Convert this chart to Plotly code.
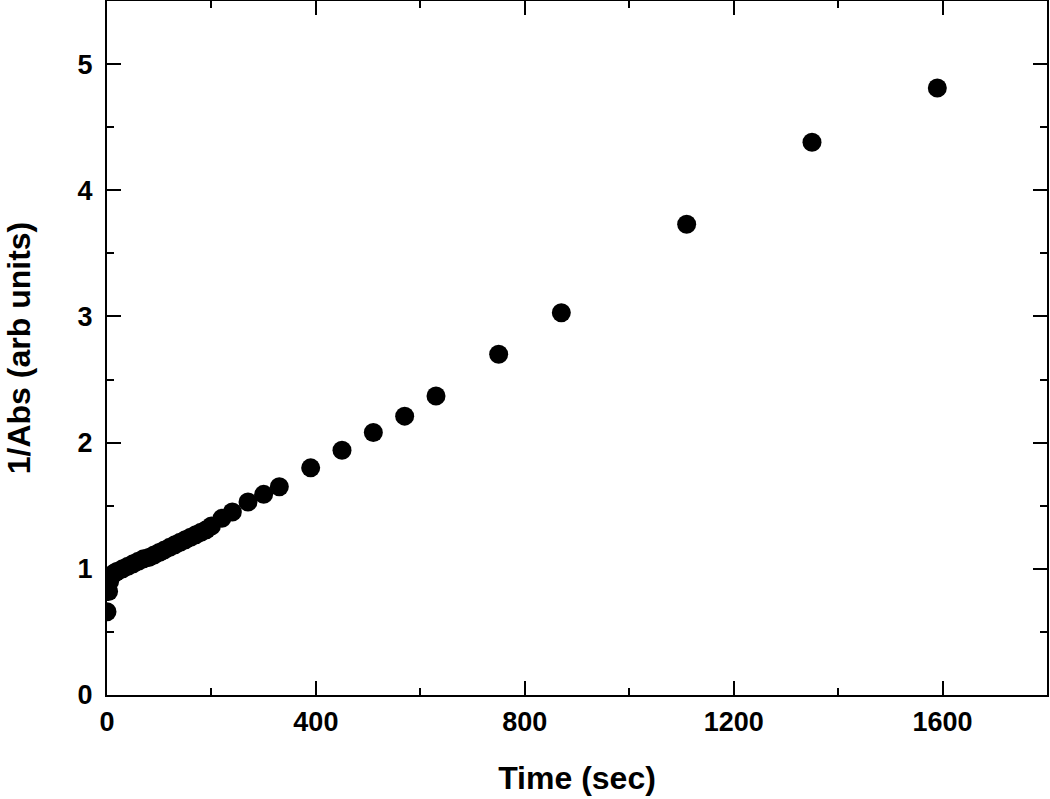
import plotly.graph_objects as go

# time (sec) and 1/Abs (arb units)
time_sec = [0, 3, 5, 8, 12, 16, 20, 30, 40, 50, 60, 70, 80, 90, 100, 110, 120,
            130, 140, 150, 160, 170, 180, 190, 200, 220, 240, 270, 300, 330,
            390, 450, 510, 570, 630, 750, 870, 1110, 1350, 1590]
inv_abs = [0.66, 0.82, 0.90, 0.94, 0.96, 0.97, 0.98, 1.00, 1.02, 1.04, 1.06,
           1.08, 1.09, 1.11, 1.13, 1.15, 1.17, 1.19, 1.21, 1.23, 1.25, 1.27,
           1.29, 1.31, 1.34, 1.40, 1.45, 1.53, 1.59, 1.65,
           1.80, 1.94, 2.08, 2.21, 2.37, 2.70, 3.03, 3.73, 4.38, 4.81]

x_ticks = [0, 400, 800, 1200, 1600]
y_ticks = [0, 1, 2, 3, 4, 5]

FONT = "Liberation Sans, Arial, sans-serif"

fig = go.Figure()
fig.add_trace(go.Scatter(
    x=time_sec, y=inv_abs, mode="markers",
    marker=dict(color="black", size=19, line=dict(width=0)),
    cliponaxis=True, showlegend=False,
))

common = dict(
    showline=True, linecolor="black", linewidth=2, mirror="ticks",
    ticks="inside", ticklen=14, tickwidth=2, tickcolor="black",
    showgrid=False, zeroline=False, automargin=False,
    tickfont=dict(family=FONT, size=27, color="black", weight="bold"),
    title_font=dict(family=FONT, size=32, color="black", weight="bold"),
)

fig.update_xaxes(
    range=[0, 1800], tickvals=x_ticks, ticktext=[str(v) for v in x_ticks],
    minor=dict(ticks="inside", ticklen=7, tickwidth=2, tickcolor="black", dtick=200, tick0=0),
    title_text="Time (sec)", title_standoff=30,
    ticklabelstandoff=2, **common,
)
fig.update_yaxes(
    range=[0, 5.5], tickvals=y_ticks, ticktext=[str(v) for v in y_ticks],
    minor=dict(ticks="inside", ticklen=7, tickwidth=2, tickcolor="black", dtick=0.5, tick0=0),
    title_text="1/Abs (arb units)", title_standoff=37,
    ticklabelstandoff=7, **common,
)
fig.update_layout(
    width=1050, height=799,
    margin=dict(l=107, r=3, t=1, b=104),
    plot_bgcolor="white", paper_bgcolor="white",
    font=dict(family=FONT, color="black"),
)

fig.write_html("out.html", config={"displayModeBar": False},
               post_script="document.body.style.margin='0';")
